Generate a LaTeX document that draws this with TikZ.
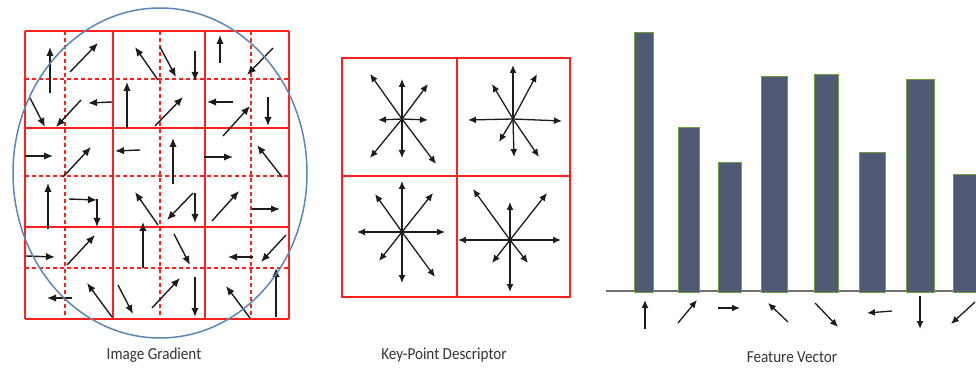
\documentclass[tikz,border=0pt]{standalone}
\usepackage{fontspec}
\setmainfont{Carlito}[FakeStretch=0.9]
\usetikzlibrary{arrows.meta}

\definecolor{gridred}{HTML}{FF1F1F}
\definecolor{ringblue}{HTML}{5B87B6}
\definecolor{barfill}{HTML}{505A74}
\definecolor{baredge}{HTML}{6E9E3C}
\definecolor{axisgray}{HTML}{707070}
\definecolor{ink}{HTML}{1C1C1C}

\tikzset{
  cellsolid/.style={gridred, line width=1.3pt},
  celldash/.style={gridred, line width=1.1pt, dash pattern=on 4pt off 3pt},
  ring/.style={ringblue, line width=1.5pt},
  grad/.style={ink, line width=1.4pt, -{Latex[length=9pt,width=7.5pt]}},
  bin/.style={ink, line width=1.3pt, -{Latex[length=8pt,width=7pt]}},
  featbar/.style={fill=barfill, draw=baredge, line width=1pt},
  axisline/.style={axisgray, line width=1.8pt},
  caption/.style={font=\fontsize{16.8}{18}\selectfont, text=black!80, inner sep=0pt}
}

\begin{document}
\begin{tikzpicture}[x=1pt,y=-1pt]
\useasboundingbox (0,0) rectangle (976,371);

% ---------- image gradient: 4x4 cells, each split into 2x2 by dashed lines
\foreach \x in {65,160,251} \draw[celldash] (\x,31) -- (\x,319);
\foreach \y in {79,176,268} \draw[celldash] (25,\y) -- (289,\y);
\foreach \x in {25,113,205,289} \draw[cellsolid] (\x,31) -- (\x,319);
\foreach \y in {31,128,227,319} \draw[cellsolid] (25,\y) -- (289,\y);

% gradient samples
\foreach \xa/\ya/\xb/\yb in {
  50/93/50/47, 70/72/98/43, 158/80/135/47, 30/98/45/127,
  81/100/56/127, 112/102/88/103, 127/128/127/82, 25/156/53/156,
  63/177/91/147, 140/150/115/151, 160/47/176/77, 195/51/195/81,
  220/63/220/35, 273/48/247/75, 155/126/183/97, 233/102/207/102,
  223/136/250/106, 268/97/268/126, 173/184/173/138, 204/157/233/157,
  282/177/257/145, 48/229/48/183, 69/199/97/200, 97/199/97/227,
  158/225/135/192, 26/256/55/257, 67/265/95/235, 143/268/143/222,
  72/298/47/298, 112/317/87/283, 118/285/133/314, 193/193/167/220,
  195/193/195/223, 212/221/239/191, 252/209/280/209, 174/234/190/265,
  253/257/228/257, 286/235/261/262, 152/308/180/278, 195/277/195/317,
  250/318/226/286, 276/317/276/268}
  \draw[grad] (\xa,\ya) -- (\xb,\yb);

% sampling window
\draw[ring] (160,173) ellipse [x radius=147, y radius=165];

% ---------- key-point descriptor: 2x2 orientation histograms
\draw[cellsolid] (342,58) rectangle (570,297);
\draw[cellsolid] (457,58) -- (457,297);
\draw[cellsolid] (342,176) -- (570,176);

\foreach \xb/\yb in {370/74, 402/79, 428/84, 378/120, 428/120, 370/158, 402/158, 436/164}
  \draw[bin] (402,119) -- (\xb,\yb);
\foreach \xb/\yb in {513/65, 537/74, 492/84, 468/120, 562/121, 499/142, 514/157, 539/157}
  \draw[bin] (513,119) -- (\xb,\yb);
\foreach \xb/\yb in {402/181, 375/194, 433/193, 357/232, 445/232, 379/261, 402/283, 435/277}
  \draw[bin] (402,232) -- (\xb,\yb);
\foreach \xb/\yb in {510/202, 473/189, 547/193, 458/240, 561/240, 492/263, 510/292, 528/263}
  \draw[bin] (510,240) -- (\xb,\yb);

% ---------- feature vector: one bar per orientation bin
\draw[axisline] (606,291) -- (976,291);
\foreach \xl/\xr/\yt in {634/653/33, 678/699/128, 718/741/163, 761/787/77,
                         814/838/75, 859/885/153, 906/934/80, 953/980/175}
  \draw[featbar] (\xl,292) rectangle (\xr,\yt);

\foreach \xa/\ya/\xb/\yb in {645/329/645/300, 678/323/697/300, 718/308/740/308,
  788/322/768/303, 815/303/838/327, 892/311/867/313, 920/296/920/329, 975/302/951/324}
  \draw[bin] (\xa,\ya) -- (\xb,\yb);

% ---------- captions
\node[caption] (capgrad) at (154,355) {Image Gradient};
\node[caption] (capdesc) at (444,355) {Key-Point Descriptor};
\node[caption] (capfeat) at (792,357) {Feature Vector};
\end{tikzpicture}
\end{document}
